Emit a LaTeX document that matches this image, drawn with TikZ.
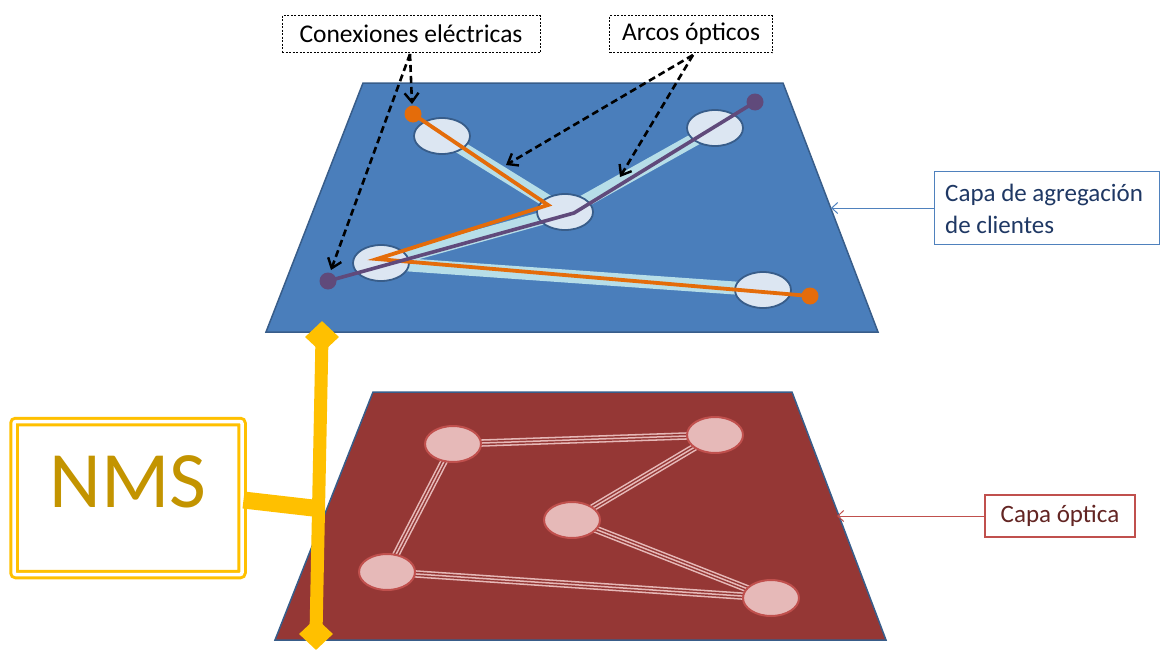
\documentclass[tikz,border=0pt]{standalone}
\usepackage{fontspec}
\setmainfont{Carlito}
\usetikzlibrary{shapes.geometric,arrows.meta}
\definecolor{layblue}{HTML}{4A7EBB}
\definecolor{edgeblue}{HTML}{385D8A}
\definecolor{laybluelt}{HTML}{4F81BD}
\definecolor{ellblue}{HTML}{DCE6F2}
\definecolor{bandblue}{HTML}{B7DEE8}
\definecolor{orng}{HTML}{E46C0A}
\definecolor{purp}{HTML}{604A7B}
\definecolor{layred}{HTML}{953735}
\definecolor{ellred}{HTML}{E6B9B8}
\definecolor{edgered}{HTML}{C0504D}
\definecolor{txtblue}{HTML}{1F3864}
\definecolor{txtred}{HTML}{632523}
\definecolor{yel}{HTML}{FFC000}
\definecolor{nmstxt}{HTML}{C39400}
\begin{document}
\begin{tikzpicture}[x=1pt,y=-1pt,
  bell/.style={ellipse,draw=edgeblue,line width=1.8pt,fill=ellblue,minimum width=56pt,minimum height=36pt,inner sep=0pt},
  rell/.style={ellipse,draw=edgered,line width=2pt,fill=ellred,minimum width=56pt,minimum height=36pt,inner sep=0pt},
  band/.style={line width=13pt,bandblue},
  olink/.style={line width=3.8pt,orng,line join=miter},
  plink/.style={line width=3.6pt,purp},
  callout/.style={draw=black,dash pattern=on 2pt off 1.5pt,line width=0.8pt,fill=white,minimum height=37pt,inner xsep=10pt,font=\fontsize{25.5}{28}\selectfont},
  calarrow/.style={black,line width=2.6pt,dash pattern=on 7pt off 4pt,-{Straight Barb[length=9pt,width=14pt,line width=2.4pt]}},
  fib/.style={line width=7.5pt,ellred},
  fibd/.style={line width=4.4pt,layred},
  fibc/.style={line width=1.5pt,ellred},
  dot/.style={circle,inner sep=0pt,minimum size=17pt},
  yd/.style={diamond,fill=yel,inner sep=0pt,minimum width=34pt,minimum height=32pt}
]
\useasboundingbox (0,0) rectangle (1162,653);
% ---------- top layer ----------
\draw[fill=layblue,draw=edgeblue,line width=1.5pt] (363,83) -- (783,83) -- (878,332) -- (266,332) -- cycle;
\coordinate (b1c) at (442,136);
\coordinate (b2c) at (715,128);
\coordinate (b3c) at (565,212);
\coordinate (b4c) at (381,263);
\coordinate (b5c) at (763,290);
\draw[band] (b1c) -- (b3c);
\draw[band] (b3c) -- (b2c);
\draw[band] (b3c) -- (b4c);
\draw[band] (b4c) -- (b5c);
\node[bell] (b1) at (b1c) {};
\node[bell] (b2) at (b2c) {};
\node[bell] (b3) at (b3c) {};
\node[bell] (b4) at (b4c) {};
\node[bell] (b5) at (b5c) {};
\coordinate (ov1) at (548,205);
\coordinate (ov2) at (377,259);
\coordinate (pv1) at (574,213);
\node[dot,fill=orng] (oa) at (413,114) {};
\node[dot,fill=orng] (ob) at (810,296) {};
\node[dot,fill=purp] (pa) at (328,281) {};
\node[dot,fill=purp] (pb) at (755,102) {};
\draw[olink] (oa.center) -- (ov1) -- (ov2) -- (ob.center);
\draw[plink] (pa.center) -- (pv1) -- (pb.center);
% callouts
\node[callout,minimum width=258pt] (ce) at (411,34) {Conexiones eléctricas};
\node[callout,minimum width=163pt] (ao) at (691,34) {Arcos ópticos};
\coordinate (cea) at (410,54);
\coordinate (aoa) at (693,55);
\draw[calarrow] (cea) -- (412,104);
\draw[calarrow] (cea) -- (331,270);
\draw[calarrow] (aoa) -- (506,165);
\draw[calarrow] (aoa) -- (620,177);
% label top
\node[draw=laybluelt,line width=1.2pt,fill=white,text=txtblue,inner sep=0pt,minimum width=225pt,minimum height=73pt] (lt) at (1047,208) {};
\node[align=left,text=txtblue,anchor=west,inner sep=0pt,font=\fontsize{25}{32}\selectfont] (ltt) at (945,209) {Capa de agregación\\de clientes};
\coordinate (lta) at (831,208);
\draw[laybluelt,line width=1pt,-{Straight Barb[length=6pt,width=11pt]}] (lt.west) -- (lta);
% ---------- bottom layer ----------
\draw[fill=layred,draw=edgeblue,line width=1.5pt] (373,392) -- (792,392) -- (886,640) -- (275,640) -- cycle;
\coordinate (r1c) at (453,444);
\coordinate (r2c) at (715,435);
\coordinate (r3c) at (572,520);
\coordinate (r4c) at (387,572);
\coordinate (r5c) at (771,598);
\foreach \a/\b in {r1c/r2c,r2c/r3c,r3c/r5c,r1c/r4c,r4c/r5c}{
  \draw[fib] (\a) -- (\b);
  \draw[fibd] (\a) -- (\b);
  \draw[fibc] (\a) -- (\b);
}
\node[rell] (r1) at (r1c) {};
\node[rell] (r2) at (r2c) {};
\node[rell] (r3) at (r3c) {};
\node[rell] (r4) at (r4c) {};
\node[rell] (r5) at (r5c) {};
% label bottom
\node[draw=edgered,line width=1.2pt,fill=white,text=txtred,inner xsep=9pt,minimum width=150pt,minimum height=42pt,font=\fontsize{25}{28}\selectfont] (lb) at (1060,516) {Capa óptica};
\coordinate (lba) at (837,516);
\draw[edgered,line width=1pt,-{Straight Barb[length=6pt,width=11pt]}] (lb.west) -- (lba);
% ---------- NMS ----------
\node[draw=yel,line width=3pt,double=white,double distance=3.5pt,rounded corners=2pt,minimum width=228pt,minimum height=153pt] (nms) at (128,498) {};
\node[text=nmstxt,font=\fontsize{80}{80}\selectfont,inner sep=0pt] (nmst) at (128,482) {NMS};
\node[yd] (dt) at (322,337) {};
\node[yd] (db) at (316,634) {};
\draw[yel,line width=13pt] (dt.center) -- (db.center);
\coordinate (bj) at (313,508);
\draw[yel,line width=17pt] (nms.east |- 0,500) -- (bj);
\end{tikzpicture}
\end{document}
